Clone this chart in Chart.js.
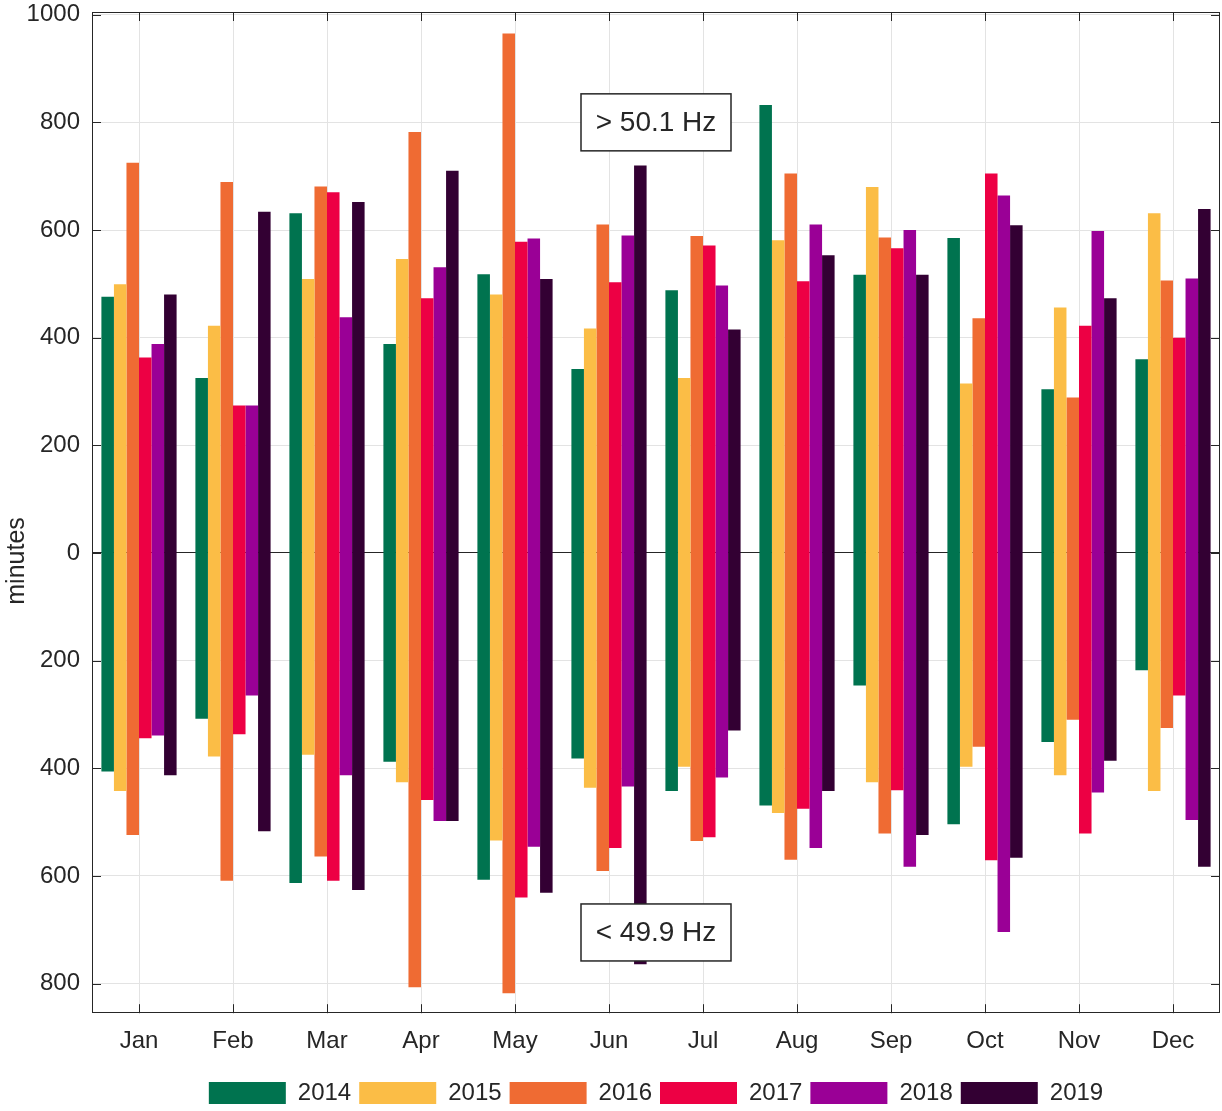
<!DOCTYPE html>
<html lang="en">
<head>
<meta charset="UTF-8">
<title>Minutes outside 49.9 - 50.1 Hz</title>
<script src="https://cdn.jsdelivr.net/npm/chart.js"></script>
<style>
  html, body { margin: 0; padding: 0; background: #fff; }
  #wrap { width: 1222px; height: 1111px; }
</style>
</head>
<body>
<div id="wrap"><canvas id="chart"></canvas></div>
<script>
const months = ['Jan', 'Feb', 'Mar', 'Apr', 'May', 'Jun', 'Jul', 'Aug', 'Sep', 'Oct', 'Nov', 'Dec'];
const years = ['2014', '2015', '2016', '2017', '2018', '2019'];
const colors = ['#00734f', '#fbbd46', '#ef6b33', '#ed0044', '#9a0096', '#330033'];

// minutes above 50.1 Hz, per month
const above2014 = [476, 325, 631, 388, 518, 342, 488, 832, 517, 585, 304, 360];
const above2015 = [499, 422, 509, 546, 480, 417, 325, 581, 680, 315, 456, 631];
const above2016 = [725, 689, 681, 782, 965, 610, 589, 705, 586, 436, 289, 506];
const above2017 = [363, 274, 670, 473, 578, 503, 571, 505, 566, 705, 422, 400];
const above2018 = [388, 274, 438, 531, 584, 590, 497, 610, 600, 664, 598, 510];
const above2019 = [480, 634, 652, 710, 509, 720, 415, 553, 517, 609, 473, 639];

// minutes below 49.9 Hz, per month (plotted downwards)
const below2014 = [406, 308, 613, 388, 607, 382, 442, 469, 246, 504, 351, 218];
const below2015 = [442, 378, 375, 426, 534, 436, 397, 483, 426, 397, 413, 442];
const below2016 = [524, 609, 564, 807, 818, 591, 535, 570, 521, 360, 310, 325];
const below2017 = [344, 337, 609, 459, 640, 548, 528, 475, 441, 571, 521, 265];
const below2018 = [339, 265, 413, 498, 546, 434, 417, 548, 583, 704, 445, 496];
const below2019 = [413, 517, 626, 498, 631, 764, 330, 442, 524, 566, 386, 583];

const yTicks = [-800, -600, -400, -200, 0, 200, 400, 600, 800, 1000];
const noteLabels = ['> 50.1 Hz', '< 49.9 Hz'];
const yTitle = 'minutes';

const aboveAll = [above2014, above2015, above2016, above2017, above2018, above2019];
const belowAll = [below2014, below2015, below2016, below2017, below2018, below2019];

const FONT = "'Liberation Sans', Arial, sans-serif";
const INK = '#262626';
Chart.defaults.font.family = FONT;
Chart.defaults.color = INK;

// box round the plot, inward tick marks, y title and the two text boxes
const framePlugin = {
  id: 'frame',
  afterDraw(chart) {
    const { ctx, chartArea: a, scales: { x, y } } = chart;
    ctx.save();
    ctx.strokeStyle = INK;
    ctx.lineWidth = 1;
    ctx.beginPath();
    yTicks.forEach(v => {
      const py = Math.round(y.getPixelForValue(v)) + 0.5;
      ctx.moveTo(a.left, py); ctx.lineTo(a.left + 9, py);
      ctx.moveTo(a.right, py); ctx.lineTo(a.right - 9, py);
    });
    months.forEach((m, i) => {
      const px = Math.round(x.getPixelForValue(i)) + 0.5;
      ctx.moveTo(px, a.top); ctx.lineTo(px, a.top + 9);
      ctx.moveTo(px, a.bottom); ctx.lineTo(px, a.bottom - 9);
    });
    ctx.stroke();
    ctx.strokeRect(Math.round(a.left) + 0.5, Math.round(a.top) + 0.5, Math.round(a.width) - 1, Math.round(a.height) - 1);

    // y title, sitting a little below the zero line
    ctx.save();
    ctx.translate(17, y.getPixelForValue(0) + 8);
    ctx.rotate(-Math.PI / 2);
    ctx.font = '25px ' + FONT;
    ctx.fillStyle = INK;
    ctx.textAlign = 'center';
    ctx.textBaseline = 'middle';
    ctx.fillText(yTitle, 0, 0);
    ctx.restore();

    // labels between Jun and Jul
    const cx = (x.getPixelForValue(5) + x.getPixelForValue(6)) / 2;
    const spots = [800, -705];
    ctx.font = '28px ' + FONT;
    ctx.textAlign = 'center';
    ctx.textBaseline = 'middle';
    noteLabels.forEach((txt, k) => {
      const cy = y.getPixelForValue(spots[k]);
      const w = 150, h = 57;
      ctx.fillStyle = '#fff';
      ctx.fillRect(cx - w / 2, cy - h / 2, w, h);
      ctx.lineWidth = 1.5;
      ctx.strokeRect(cx - w / 2, cy - h / 2, w, h);
      ctx.fillStyle = INK;
      ctx.fillText(txt, cx, cy + 1);
    });
    ctx.restore();
  }
};

const ctx = document.getElementById('chart').getContext('2d');
new Chart(ctx, {
  type: 'bar',
  data: {
    labels: months,
    datasets: years.map((yr, k) => ({
      label: yr,
      data: months.map((m, i) => [-belowAll[k][i], aboveAll[k][i]]),
      backgroundColor: colors[k],
      borderWidth: 0,
      categoryPercentage: 0.8,
      barPercentage: 1.0
    }))
  },
  options: {
    responsive: true,
    maintainAspectRatio: false,
    animation: false,
    layout: { padding: { left: 0, right: 2, top: 12, bottom: -4 } },
    plugins: {
      legend: {
        position: 'bottom',
        fullSize: false,
        labels: {
          boxWidth: 77,
          boxHeight: 22,
          padding: 8,
          color: INK,
          font: { size: 24 }
        }
      },
      tooltip: { enabled: false }
    },
    scales: {
      x: {
        offset: true,
        afterFit: scale => { scale.height += 3; },
        grid: { offset: false, color: '#e3e3e3', drawTicks: false },
        border: { display: false },
        ticks: { padding: 14, color: INK, font: { size: 24 } }
      },
      y: {
        min: -855,
        max: 1005,
        afterBuildTicks: scale => { scale.ticks = yTicks.map(v => ({ value: v })); },
        afterFit: scale => {
          scale.width = 92;
          scale.paddingTop = 0;
          scale.paddingBottom = 0;
        },
        grid: {
          color: c => (c.tick && c.tick.value === 0 ? INK : '#e3e3e3'),
          drawTicks: false
        },
        border: { display: false },
        ticks: {
          padding: 12,
          color: INK,
          font: { size: 24, lineHeight: 1 },
          callback: v => Math.abs(v)
        }
      }
    }
  },
  plugins: [framePlugin]
});
</script>
</body>
</html>
